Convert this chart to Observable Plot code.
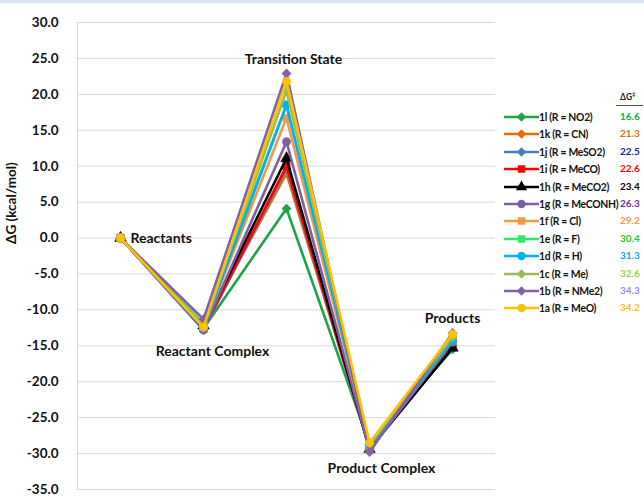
<!DOCTYPE html>
<html><head><meta charset="utf-8">
<script src="https://cdn.jsdelivr.net/npm/d3@7"></script>
<script src="https://cdn.jsdelivr.net/npm/@observablehq/plot@0.6"></script>
<style>
body{margin:0;background:#fff;font-family:Lato,"Open Sans",sans-serif;}
#wrap{position:relative;width:644px;height:497px;overflow:hidden;}
#topbar{position:absolute;left:0;top:0;width:644px;height:3px;background:#dbe5f1;}
#legend{position:absolute;left:0;top:0;width:644px;height:497px;pointer-events:none;}
.lrow{position:absolute;left:504px;height:16px;display:flex;align-items:center;font-weight:bold;font-size:10.4px;letter-spacing:-0.3px;color:#111;white-space:nowrap;}
.lval{position:absolute;left:620px;font-weight:bold;font-size:10px;}
</style></head><body>
<div id="wrap"><div id="chart"></div><div id="topbar"></div><div id="legend"></div></div>
<script>
// ---- data ----
const stages = ["Reactants", "Reactant Complex", "Transition State", "Product Complex", "Products"];
const seriesLabels = ["1l (R = NO2)", "1k (R = CN)", "1j (R = MeSO2)", "1i (R = MeCO)", "1h (R = MeCO2)", "1g (R = MeCONH)",
  "1f (R = Cl)", "1e (R = F)", "1d (R = H)", "1c (R = Me)", "1b (R = NMe2)", "1a (R = MeO)"];
const barriers = ["16.6", "21.3", "22.5", "22.6", "23.4", "26.3", "29.2", "30.4", "31.3", "32.6", "34.3", "34.2"];
const s1l = [0, -12.6, 4.1, -28.7, -15.5];
const s1k = [0, -12.3, 9.0, -29.0, -15.0];
const s1j = [0, -12.8, 9.7, -29.3, -15.2];
const s1i = [0, -12.6, 10.0, -29.2, -14.8];
const s1h = [0, -12.2, 11.1, -29.4, -15.3];
const s1g = [0, -12.8, 13.4, -29.5, -14.5];
const s1f = [0, -12.4, 16.7, -28.9, -14.2];
const s1e = [0, -11.9, 18.6, -28.8, -14.0];
const s1d = [0, -12.5, 18.5, -28.8, -14.3];
const s1c = [0, -12.1, 20.5, -28.7, -13.8];
const s1b = [0, -11.3, 22.9, -29.8, -13.2];
const s1a = [0, -12.4, 21.8, -28.5, -13.4];
const yTicks = [30, 25, 20, 15, 10, 5, 0, -5, -10, -15, -20, -25, -30, -35];

// ---- styles ----
const seriesValues = [s1l, s1k, s1j, s1i, s1h, s1g, s1f, s1e, s1d, s1c, s1b, s1a];
const lineColors = ["#1fa34a", "#e46c0a", "#4a7ebb", "#ff0000", "#000000", "#7f5fa0",
  "#f79646", "#2ee86a", "#00b0f0", "#9bbb59", "#8064a2", "#ffc000"];
const symbols = ["diamond2", "diamond2", "diamond2", "square", "triangle", "circle",
  "square", "square", "circle", "diamond2", "diamond2", "circle"];
const valColors = ["#00b050", "#e46c0a", "#1f1fa8", "#ff0000", "#000000", "#7030a0",
  "#f79646", "#22cc22", "#00b0f0", "#92d050", "#8e8ef0", "#ffc000"];
const font = "Lato, 'Open Sans', sans-serif";

const rows = seriesValues.map((vals, i) => vals.map((v, j) => ({series: seriesLabels[i], stage: stages[j], value: v})));

const marks = [
  Plot.ruleY(yTicks, {stroke: "#d9d9d9", strokeWidth: 1}),
  Plot.frame({anchor: "left", stroke: "#d9d9d9"}),
  Plot.axisY({ticks: yTicks, tickFormat: d => d.toFixed(1), tickSize: 0, tickPadding: 19,
    fontWeight: "bold", fontSize: 13.5, label: null, fill: "#111"}),
  Plot.text(["ΔG (kcal/mol)"], {frameAnchor: "left", rotate: -90, dx: -66, dy: -12,
    fontWeight: "bold", fontSize: 13.5, fill: "#111"})
];
rows.forEach((r, i) => {
  marks.push(Plot.line(r, {x: "stage", y: "value", stroke: lineColors[i], strokeWidth: 2.6}));
  marks.push(Plot.dot(r, {x: "stage", y: "value", symbol: () => symbols[i], fill: lineColors[i],
    stroke: lineColors[i], strokeWidth: 0.5, r: symbols[i] === "triangle" ? 4.3 : 4.2}));
});
const lab = {fontWeight: "bold", fontSize: 14, fill: "#111"};
marks.push(
  Plot.text([stages[0]], {x: d => d, y: () => 0, dx: 10, textAnchor: "start", ...lab}),
  Plot.text([stages[1]], {x: d => d, y: () => -15.8, dx: 9, ...lab}),
  Plot.text([stages[2]], {x: d => d, y: () => 24.9, dx: 7, ...lab}),
  Plot.text([stages[3]], {x: d => d, y: () => -32.1, dx: 12, ...lab}),
  Plot.text([stages[4]], {x: d => d, y: () => -11.2, dx: 0, ...lab})
);

const chart = Plot.plot({
  width: 644, height: 497,
  marginLeft: 77, marginRight: 149, marginTop: 22, marginBottom: 8,
  x: {type: "point", domain: stages, padding: 0.5, axis: null},
  y: {domain: [-35, 30]},
  style: {fontFamily: font, background: "#fff", overflow: "visible"},
  marks
});
document.getElementById("chart").appendChild(chart);

// ---- legend ----
const leg = d3.select("#legend");
leg.append("div").style("position", "absolute").style("left", "620px").style("top", "90px")
  .style("font-size", "8.5px").style("font-weight", "bold").style("color", "#222").style("font-family", font).html("ΔG<sup style='font-size:6px'>‡</sup>");
leg.append("div").style("position", "absolute").style("left", "616px").style("top", "105px")
  .style("width", "27px").style("height", "1px").style("background", "#555");
const symMap = {diamond2: d3.symbolDiamond2, square: d3.symbolSquare, triangle: d3.symbolTriangle, circle: d3.symbolCircle};
seriesLabels.forEach((lbl, i) => {
  const top = 109 + i * 17.4;
  const row = leg.append("div").attr("class", "lrow").style("top", top + "px").style("font-family", font);
  const svg = row.append("svg").attr("width", 35).attr("height", 16);
  svg.append("line").attr("x1", 0).attr("x2", 35).attr("y1", 8).attr("y2", 8)
    .attr("stroke", lineColors[i]).attr("stroke-width", 2.6);
  const rr = 4.2;
  svg.append("path").attr("transform", "translate(17.5,8)")
    .attr("d", d3.symbol(symMap[symbols[i]], Math.PI * rr * rr)())
    .attr("fill", lineColors[i]);
  row.append("span").text(lbl);
  leg.append("div").attr("class", "lval").style("top", (top + 1) + "px").style("color", valColors[i])
    .style("font-family", font).text(barriers[i]);
});
</script>
</body></html>
